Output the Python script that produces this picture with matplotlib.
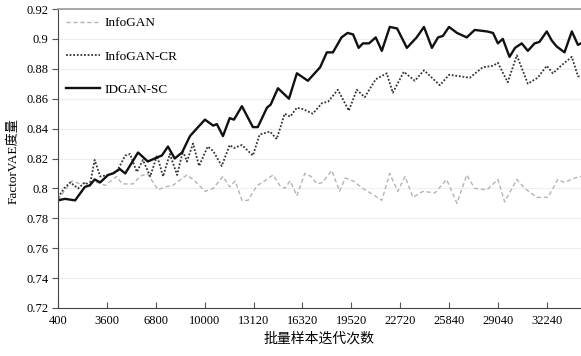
import matplotlib
matplotlib.use("Agg")
import matplotlib.pyplot as plt

# iteration counts (estimated from the category axis) and FactorVAE scores
idgan_iter = [400, 860, 1520, 2160, 2480, 2800, 3160, 3680, 4000, 4440, 4800,
              5640, 6280, 6960, 7200, 7600, 8040, 8520, 9040, 9480, 10020,
              10560, 10800, 11200, 11640, 11920, 12440, 13160, 13480, 14080,
              14320, 14800, 15520, 16040, 16760, 17560, 18000, 18400, 18960,
              19360, 19720, 20080, 20360, 20760, 21200, 21600, 22120, 22600,
              23240, 23880, 24360, 24880, 25280, 25600, 26000, 26520, 27160,
              27680, 28480, 28880, 29200, 29520, 29960, 30320, 30760, 31160,
              31600, 31920, 32400, 32720, 33040, 33560, 34040, 34440, 34640]
idgan_val = [0.792, 0.793, 0.792, 0.801, 0.802, 0.806, 0.804, 0.809, 0.810,
             0.813, 0.810, 0.824, 0.818, 0.821, 0.822, 0.828, 0.820, 0.824,
             0.835, 0.840, 0.846, 0.842, 0.843, 0.835, 0.847, 0.846, 0.855,
             0.841, 0.841, 0.854, 0.856, 0.867, 0.860, 0.877, 0.872, 0.881,
             0.891, 0.891, 0.901, 0.904, 0.903, 0.894, 0.897, 0.897, 0.901,
             0.892, 0.908, 0.907, 0.894, 0.901, 0.908, 0.894, 0.901, 0.902,
             0.908, 0.904, 0.901, 0.906, 0.905, 0.904, 0.897, 0.900, 0.888,
             0.894, 0.897, 0.892, 0.897, 0.898, 0.905, 0.899, 0.895, 0.891,
             0.905, 0.896, 0.897]

cr_iter = [400, 800, 1200, 1720, 2160, 2480, 2800, 3160, 3680, 4240, 4800,
           5120, 5560, 5960, 6440, 6880, 7280, 7720, 8200, 8580, 8840, 9240,
           9640, 10200, 10560, 11120, 11640, 11920, 12440, 13160, 13600, 14280,
           14720, 15240, 15600, 16040, 16440, 17080, 17680, 18080, 18720,
           19440, 19960, 20480, 21200, 21920, 22320, 23040, 23760, 24360,
           25400, 26000, 26720, 27360, 28200, 28880, 29200, 29840, 30440,
           31160, 31800, 32400, 32800, 33440, 34040, 34440, 34640]
cr_val = [0.794, 0.800, 0.804, 0.800, 0.804, 0.802, 0.819, 0.808, 0.809,
          0.811, 0.822, 0.823, 0.811, 0.819, 0.808, 0.822, 0.808, 0.823,
          0.809, 0.825, 0.818, 0.830, 0.815, 0.828, 0.825, 0.815, 0.829,
          0.827, 0.829, 0.822, 0.836, 0.838, 0.833, 0.850, 0.848, 0.854,
          0.853, 0.850, 0.857, 0.858, 0.866, 0.852, 0.866, 0.861, 0.873,
          0.877, 0.864, 0.878, 0.872, 0.879, 0.869, 0.876, 0.875, 0.874,
          0.881, 0.882, 0.884, 0.871, 0.889, 0.870, 0.874, 0.882, 0.877,
          0.883, 0.888, 0.875, 0.875]

info_iter = [400, 860, 1320, 1840, 2480, 2960, 3480, 4240, 4600, 5320, 5760,
             6240, 6960, 7400, 7920, 8840, 9360, 10020, 10560, 11200, 11640,
             12000, 12440, 12840, 13440, 13800, 14480, 14920, 15240, 15600,
             16040, 16560, 16960, 17360, 17720, 18320, 18840, 19200, 19720,
             20360, 21000, 21600, 22120, 22640, 23120, 23640, 24280, 25080,
             25840, 26520, 27160, 27680, 28480, 29200, 29640, 30440, 30960,
             31760, 32480, 33120, 33560, 34240, 34640]
info_val = [0.792, 0.799, 0.805, 0.803, 0.804, 0.804, 0.802, 0.808, 0.803,
            0.803, 0.808, 0.810, 0.799, 0.801, 0.802, 0.809, 0.805, 0.798,
            0.800, 0.808, 0.801, 0.805, 0.792, 0.792, 0.802, 0.804, 0.809,
            0.802, 0.800, 0.805, 0.795, 0.810, 0.808, 0.803, 0.804, 0.812,
            0.798, 0.807, 0.805, 0.800, 0.796, 0.792, 0.810, 0.798, 0.808,
            0.794, 0.798, 0.797, 0.806, 0.790, 0.809, 0.800, 0.799, 0.806,
            0.791, 0.806, 0.800, 0.794, 0.794, 0.806, 0.804, 0.807, 0.808]

tick_labels = ["400", "3600", "6800", "10000", "13120", "16320", "19520",
               "22720", "25840", "29040", "32240"]
y_ticks = [0.72, 0.74, 0.76, 0.78, 0.80, 0.82, 0.84, 0.86, 0.88, 0.90, 0.92]
y_labels = ["0.72", "0.74", "0.76", "0.78", "0.8", "0.82", "0.84", "0.86",
            "0.88", "0.9", "0.92"]

serif = ["Liberation Serif", "Noto Sans CJK SC"]
plt.rcParams["font.family"] = serif
plt.rcParams["font.size"] = 9

fig = plt.figure(figsize=(5.81, 3.56), dpi=100)
ax = fig.add_axes([58 / 581, 48 / 356, 1 - 58 / 581, 299 / 356])

ax.plot(info_iter, info_val, color="#b4b4b4", lw=1.0, ls=(0, (3, 2)),
        label="InfoGAN")
ax.plot(cr_iter, cr_val, color="#333333", lw=1.3, ls=(0, (1, 1)),
        label="InfoGAN-CR")
ax.plot(idgan_iter, idgan_val, color="#111111", lw=1.7, label="IDGAN-SC")

ax.set_xlim(400, 34640)
ax.set_ylim(0.72, 0.92)
ax.set_xticks([400 + 3200 * i for i in range(len(tick_labels))])
ax.set_xticklabels(tick_labels)
ax.set_yticks(y_ticks)
ax.set_yticklabels(y_labels)
ax.tick_params(axis="x", direction="in", length=4, color="#555555", pad=5)
ax.tick_params(axis="y", direction="out", length=4, color="#555555", pad=3)

ax.grid(axis="y", color="#eeeeee", lw=0.8)
ax.set_axisbelow(True)
ax.spines["right"].set_visible(False)
ax.spines["top"].set_color("#999999")
ax.spines["top"].set_linewidth(1.2)
ax.spines["left"].set_color("#444444")
ax.spines["bottom"].set_color("#444444")

ax.set_ylabel("FactorVAE度量", fontsize=9.5)
ax.yaxis.set_label_coords(-0.073, 0.49)
ax.set_xlabel("批量样本迭代次数", fontsize=10, labelpad=4)

ax.legend(loc="upper left", frameon=False, handlelength=2.6,
          handletextpad=0.3, labelspacing=1.6, borderaxespad=0.2,
          fontsize=9.5)

fig.savefig("out.png", dpi=100)
